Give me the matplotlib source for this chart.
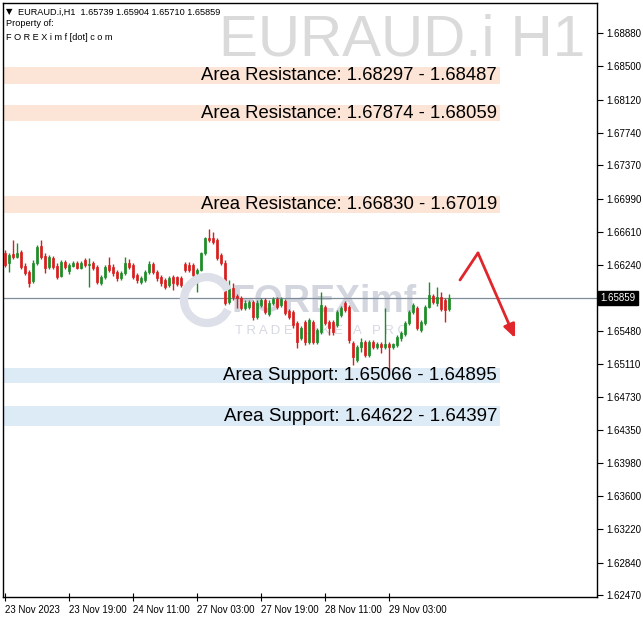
import matplotlib
matplotlib.use('Agg')
import matplotlib.pyplot as plt
from matplotlib.patches import Rectangle, Arc
import numpy as np

plt.rcParams['font.family'] = ['Liberation Sans', 'DejaVu Sans']

# ---------------- data ----------------
symbol = 'EURAUD.i'
timeframe = 'H1'
time_labels = ['23 Nov 2023', '23 Nov 19:00', '24 Nov 11:00', '27 Nov 03:00',
               '27 Nov 19:00', '28 Nov 11:00', '29 Nov 03:00']
time_label_bars = [0, 16, 32, 48, 64, 80, 96]

opens = [1.66372, 1.66258, 1.66360, 1.66326, 1.66383, 1.66224, 1.66155, 1.66053, 1.66258, 1.66452,
         1.66338, 1.66212, 1.66315, 1.66224, 1.66110, 1.66269, 1.66167, 1.66224, 1.66258, 1.66201,
         1.66292, 1.66235, 1.66258, 1.66212, 1.66030, 1.66098, 1.66235, 1.66212, 1.66155, 1.66087,
         1.66144, 1.66258, 1.66235, 1.66121, 1.66041, 1.66064, 1.66155, 1.66246, 1.66155, 1.66098,
         1.66064, 1.66007, 1.66098, 1.66098, 1.66087, 1.66246, 1.66235, 1.66235, 1.66144, 1.66178,
         1.66372, 1.66543, 1.66543, 1.66520, 1.66349, 1.66258, 1.65813, 1.65973, 1.65882, 1.65859,
         1.65745, 1.65756, 1.65813, 1.65642, 1.65779, 1.65836, 1.65676, 1.65802, 1.65847, 1.65779,
         1.65825, 1.65711, 1.65699, 1.65574, 1.65403, 1.65585, 1.65357, 1.65585, 1.65357, 1.65471,
         1.65756, 1.65585, 1.65585, 1.65551, 1.65665, 1.65802, 1.65756, 1.65346, 1.65152, 1.65300,
         1.65357, 1.65209, 1.65357, 1.65300, 1.65335, 1.65300, 1.65335, 1.65300, 1.65323, 1.65403,
         1.65449, 1.65574, 1.65699, 1.65745, 1.65494, 1.65574, 1.65756, 1.65882, 1.65802, 1.65870,
         1.65836, 1.65739]
highs = [1.66406, 1.66372, 1.66520, 1.66486, 1.66406, 1.66258, 1.66178, 1.66292, 1.66463, 1.66520,
         1.66372, 1.66349, 1.66338, 1.66258, 1.66292, 1.66292, 1.66258, 1.66281, 1.66281, 1.66281,
         1.66315, 1.66315, 1.66281, 1.66235, 1.66121, 1.66235, 1.66326, 1.66246, 1.66178, 1.66167,
         1.66326, 1.66303, 1.66258, 1.66144, 1.66110, 1.66178, 1.66281, 1.66269, 1.66178, 1.66121,
         1.66087, 1.66110, 1.66121, 1.66110, 1.66110, 1.66269, 1.66269, 1.66258, 1.66201, 1.66383,
         1.66554, 1.66645, 1.66611, 1.66543, 1.66372, 1.66292, 1.66064, 1.66030, 1.65904, 1.65882,
         1.65836, 1.65836, 1.65836, 1.65836, 1.65859, 1.65859, 1.65836, 1.65870, 1.65870, 1.65870,
         1.65847, 1.65733, 1.65722, 1.65597, 1.65540, 1.65608, 1.65631, 1.65608, 1.65517, 1.65927,
         1.65779, 1.65608, 1.65608, 1.65722, 1.65768, 1.65825, 1.65779, 1.65369, 1.65323, 1.65403,
         1.65380, 1.65380, 1.65380, 1.65357, 1.65357, 1.65745, 1.65357, 1.65346, 1.65437, 1.65483,
         1.65597, 1.65722, 1.65802, 1.65768, 1.65608, 1.65779, 1.66041, 1.65904, 1.65984, 1.65927,
         1.65859, 1.65904]
lows = [1.66212, 1.66155, 1.66303, 1.66315, 1.66190, 1.66121, 1.65984, 1.66030, 1.66235, 1.66303,
        1.66144, 1.66190, 1.66190, 1.66076, 1.66098, 1.66190, 1.66133, 1.66212, 1.66190, 1.66190,
        1.66212, 1.65984, 1.66178, 1.66018, 1.66007, 1.66076, 1.66155, 1.66110, 1.66053, 1.66064,
        1.66121, 1.66190, 1.66076, 1.66030, 1.66018, 1.66041, 1.66133, 1.66133, 1.66053, 1.65996,
        1.65961, 1.65984, 1.65950, 1.65996, 1.65984, 1.66155, 1.66155, 1.66098, 1.65927, 1.66167,
        1.66349, 1.66497, 1.66474, 1.66292, 1.66235, 1.65779, 1.65790, 1.65836, 1.65745, 1.65722,
        1.65722, 1.65733, 1.65608, 1.65619, 1.65756, 1.65676, 1.65654, 1.65779, 1.65733, 1.65756,
        1.65665, 1.65619, 1.65517, 1.65289, 1.65380, 1.65323, 1.65335, 1.65335, 1.65335, 1.65449,
        1.65551, 1.65437, 1.65437, 1.65528, 1.65642, 1.65699, 1.65346, 1.65095, 1.65129, 1.65243,
        1.65186, 1.65186, 1.65278, 1.65278, 1.65232, 1.65278, 1.65015, 1.65278, 1.65300, 1.65369,
        1.65426, 1.65551, 1.65676, 1.65494, 1.65471, 1.65551, 1.65745, 1.65790, 1.65768, 1.65711,
        1.65585, 1.65710]
closes = [1.66235, 1.66349, 1.66326, 1.66372, 1.66212, 1.66144, 1.66030, 1.66258, 1.66440, 1.66326,
          1.66201, 1.66326, 1.66212, 1.66098, 1.66269, 1.66212, 1.66235, 1.66258, 1.66201, 1.66258,
          1.66235, 1.66246, 1.66201, 1.66041, 1.66098, 1.66212, 1.66178, 1.66144, 1.66087, 1.66144,
          1.66258, 1.66212, 1.66098, 1.66064, 1.66087, 1.66155, 1.66246, 1.66155, 1.66087, 1.66030,
          1.65984, 1.66087, 1.66030, 1.66018, 1.66007, 1.66178, 1.66178, 1.66121, 1.66178, 1.66372,
          1.66543, 1.66520, 1.66497, 1.66315, 1.66258, 1.65802, 1.65973, 1.65870, 1.65859, 1.65745,
          1.65802, 1.65813, 1.65642, 1.65802, 1.65836, 1.65699, 1.65802, 1.65847, 1.65756, 1.65847,
          1.65688, 1.65642, 1.65551, 1.65357, 1.65517, 1.65357, 1.65608, 1.65357, 1.65494, 1.65779,
          1.65574, 1.65517, 1.65471, 1.65699, 1.65745, 1.65722, 1.65380, 1.65186, 1.65300, 1.65357,
          1.65209, 1.65357, 1.65300, 1.65335, 1.65300, 1.65335, 1.65300, 1.65335, 1.65414, 1.65460,
          1.65574, 1.65699, 1.65779, 1.65517, 1.65585, 1.65756, 1.65893, 1.65813, 1.65870, 1.65733,
          1.65722, 1.65859]

price_ticks = [1.68880, 1.68500, 1.68120, 1.67740, 1.67370, 1.66990, 1.66610, 1.66240,
               1.65480, 1.65110, 1.64730, 1.64350, 1.63980, 1.63600, 1.63220, 1.62840, 1.62470]
last_price = 1.65859
last_ohlc = [1.65739, 1.65904, 1.65710, 1.65859]

resistance_zones = [(1.68297, 1.68487), (1.67874, 1.68059), (1.66830, 1.67019)]
support_zones = [(1.65066, 1.64895), (1.64622, 1.64397)]

arrow_bars = [113.75, 118.25, 127.5]
arrow_prices = [1.66064, 1.66372, 1.65403]

# ---------------- figure ----------------
W, H = 643, 620
fig = plt.figure(figsize=(W / 100, H / 100), dpi=100)
fig.patch.set_facecolor('white')
ax = fig.add_axes([3 / W, 23 / H, 594 / W, 594 / H])
ax.set_xlim(-0.5, 148)
ax.set_ylim(1.62450, 1.69222)

# watermark title
fig.text(585 / W, 1 - 40 / H, f'{symbol} {timeframe}', fontsize=42, color='#DADADA',
         ha='right', va='center', zorder=0)

# FOREXimf logo watermark
fig.patches.append(Arc((207, 620 - 300), 46, 46, theta1=25, theta2=335, lw=6,
                       color='#DDE0E8', transform=None, figure=fig, zorder=1))
ax.text(0.385, 0.497, 'FOREXimf', transform=ax.transAxes, fontsize=27, fontweight='bold',
        color='#C9CCD8', alpha=0.8, ha='left', va='center', zorder=1)
ax.text(0.39, 0.447, 'T R A D E   L I K E   A   P R O', transform=ax.transAxes, fontsize=9.5,
        color='#D6D9E2', ha='left', va='center', zorder=1)

# zones
zone_x0, zone_x1 = -0.25, 123.75
for lo, hi in resistance_zones:
    ax.add_patch(Rectangle((zone_x0, min(lo, hi)), zone_x1 - zone_x0, abs(hi - lo),
                           facecolor='#FCE4D6', edgecolor='none', zorder=1))
    ax.text(123.0, (lo + hi) / 2, f'Area Resistance: {lo:.5f} - {hi:.5f}', fontsize=13.3,
            ha='right', va='center', color='black', zorder=5)
for a, b in support_zones:
    ax.add_patch(Rectangle((zone_x0, min(a, b)), zone_x1 - zone_x0, abs(a - b),
                           facecolor='#DDEBF7', edgecolor='none', zorder=1))
    ax.text(123.0, (a + b) / 2, f'Area Support: {a:.5f} - {b:.5f}', fontsize=13.5,
            ha='right', va='center', color='black', zorder=5)

# current price line
ax.axhline(last_price, color='#7F8C99', lw=0.9, zorder=2)

# candles
o = np.array(opens); h = np.array(highs); l = np.array(lows); c = np.array(closes)
idx = np.arange(len(o))
bull = c >= o
cols = np.where(bull, '#1E8C28', '#D62020')
ax.vlines(idx, l, h, colors=cols, lw=1.0, zorder=3)
ax.bar(idx, np.maximum(np.abs(c - o), 0.00002), bottom=np.minimum(o, c), width=0.72,
       color=cols, edgecolor=cols, linewidth=0.5, zorder=4)

# red arrow
ax.plot(arrow_bars[:2], arrow_prices[:2], color='#E0262B', lw=2, zorder=6,
        solid_capstyle='round')
ax.annotate('', xy=(arrow_bars[2], arrow_prices[2]), xytext=(arrow_bars[1], arrow_prices[1]),
            arrowprops=dict(arrowstyle='-|>,head_length=0.8,head_width=0.35', color='#E0262B',
                            lw=2, shrinkA=0, shrinkB=0), zorder=6)

# axes styling
for s in ['left', 'top', 'right', 'bottom']:
    ax.spines[s].set_color('black')
    ax.spines[s].set_linewidth(1)
ax.yaxis.tick_right()
ax.set_yticks(price_ticks)
ax.set_yticklabels([f'{p:.5f}' for p in price_ticks])
ax.tick_params(axis='y', direction='out', length=4, labelsize=7, pad=3, colors='black')
ax.set_xticks(time_label_bars)
ax.set_xticklabels(time_labels, ha='left')
ax.tick_params(axis='x', direction='inout', length=6, labelsize=7, pad=3)

# last price label
ax.text(1.006, last_price, f'{last_price:.5f}', transform=ax.get_yaxis_transform(),
        fontsize=7, color='white', ha='left', va='center',
        bbox=dict(boxstyle='square,pad=0.25', facecolor='black', edgecolor='black'))

# header
fig.text(6 / W, 1 - 12 / H, '▼', fontsize=6, family=['DejaVu Sans'], va='center', ha='left')
fig.text(18 / W, 1 - 12 / H,
         f'{symbol},{timeframe}  ' + ' '.join(f'{v:.5f}' for v in last_ohlc),
         fontsize=6.6, va='center', ha='left')
fig.text(6 / W, 1 - 24 / H, 'Property of:', fontsize=6.6, va='center', ha='left')
fig.text(6 / W, 1 - 37 / H, 'F O R E X i m f [dot] c o m', fontsize=6.6, va='center', ha='left')

fig.savefig('out.png', dpi=100)
